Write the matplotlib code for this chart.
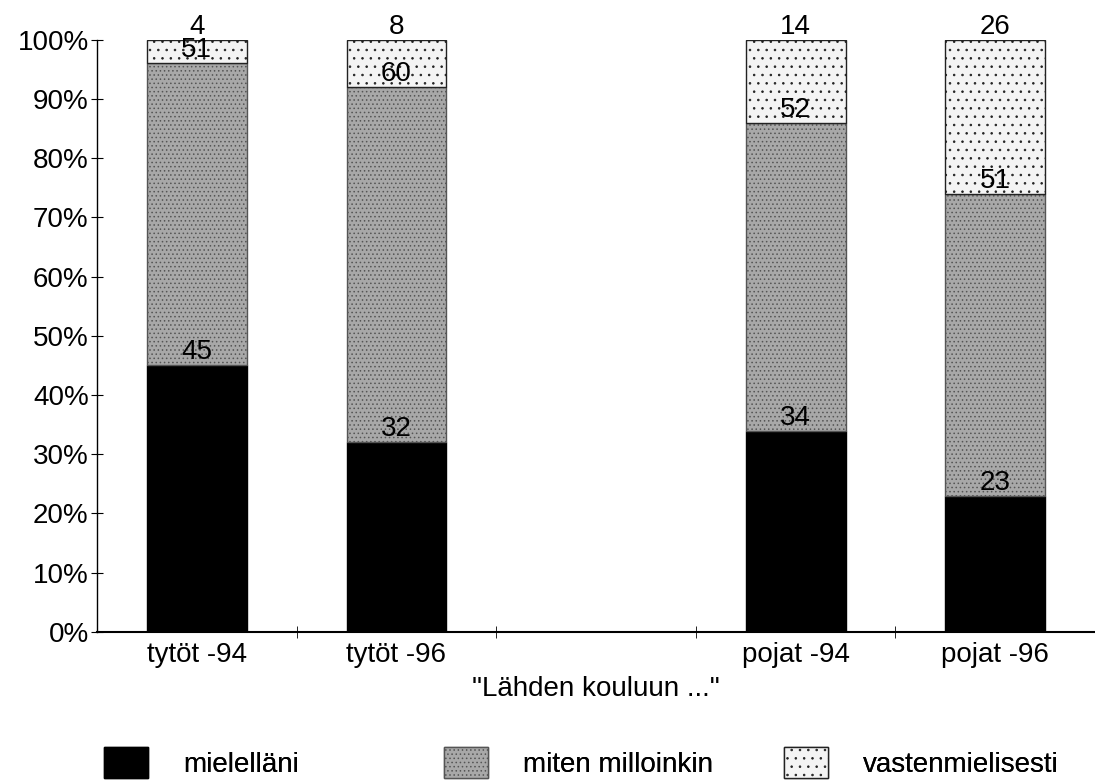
import numpy as np
import matplotlib
matplotlib.use("Agg")
import matplotlib.pyplot as plt
from matplotlib.ticker import FixedLocator, PercentFormatter

plt.rcParams['font.family'] = ['Liberation Sans', 'DejaVu Sans']
plt.rcParams['hatch.linewidth'] = 0.6

# data (percent), x positions leave an empty slot between girls and boys
groups = ["tytöt -94", "tytöt -96", "pojat -94", "pojat -96"]
xpos = [0, 1, 3, 4]
mielellani = [45, 32, 34, 23]
miten = [51, 60, 52, 51]
vasten = [4, 8, 14, 26]
series_names = ["mielelläni", "miten milloinkin", "vastenmielisesti"]

FS = 20

fig = plt.figure(figsize=(10.95, 7.8), dpi=100)
ax = fig.add_axes([0.0886, 0.19, 0.9114, 0.759])

w = 0.5
b1 = ax.bar(xpos, mielellani, w, color='black', edgecolor='black', lw=1, label=series_names[0])
bottom2 = np.array(mielellani)
b2 = ax.bar(xpos, miten, w, bottom=bottom2, color='#a8a8a8', edgecolor='#555555',
            hatch='....', lw=1, label=series_names[1])
bottom3 = bottom2 + np.array(miten)
b3 = ax.bar(xpos, vasten, w, bottom=bottom3, color='#f4f4f4', edgecolor='#222222',
            hatch='..', lw=1, label=series_names[2])

# value labels sit on top edge of each segment
for i, x in enumerate(xpos):
    ax.text(x, mielellani[i], str(mielellani[i]), ha='center', va='bottom', fontsize=FS)
    ax.text(x, bottom3[i], str(miten[i]), ha='center', va='bottom', fontsize=FS)
    ax.text(x, 100, str(vasten[i]), ha='center', va='bottom', fontsize=FS)

ax.set_xlim(-0.5, 4.5)
ax.set_ylim(0, 100)
ax.yaxis.set_major_locator(FixedLocator(np.arange(0, 101, 10)))
ax.yaxis.set_major_formatter(PercentFormatter(decimals=0))
ax.set_xticks(xpos)
ax.set_xticklabels(groups)
ax.set_xticks([0.5, 1.5, 2.5, 3.5], minor=True)
ax.tick_params(axis='x', which='major', length=0, labelsize=FS, pad=7)
ax.tick_params(axis='x', which='minor', direction='inout', length=8)
ax.tick_params(axis='y', direction='inout', length=8, labelsize=FS, pad=2)
for s in ['top', 'right']:
    ax.spines[s].set_visible(False)
ax.spines['left'].set_linewidth(1)
ax.spines['bottom'].set_linewidth(1.5)
ax.set_xlabel('"Lähden kouluun ..."', fontsize=FS, labelpad=6)

# one legend entry per slot, placed like the original
leg_x = [104, 444, 784]
for h, name, lx in zip([b1, b2, b3], series_names, leg_x):
    lg = fig.legend(handles=[h], labels=[name], loc='lower left',
                    bbox_to_anchor=(lx / 1095, 2 / 780), frameon=False, fontsize=FS,
                    handlelength=1.6, handleheight=1.35, handletextpad=1.25,
                    borderpad=0, borderaxespad=0)
    fig.add_artist(lg)

fig.savefig("out.png", dpi=100)
